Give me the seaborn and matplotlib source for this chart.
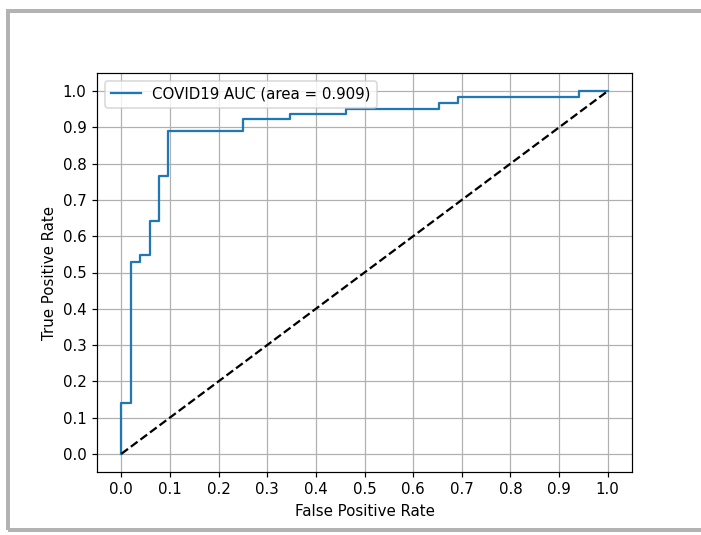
import matplotlib
matplotlib.use("Agg")
import matplotlib.pyplot as plt
from matplotlib.patches import Rectangle
import seaborn as sns
import pandas as pd
import numpy as np

# ROC curve corner points
fpr = [0.0, 0.0, 0.019, 0.019, 0.038, 0.038, 0.058, 0.058, 0.077, 0.077,
       0.096, 0.096, 0.250, 0.250, 0.346, 0.346, 0.462, 0.462, 0.654, 0.654,
       0.692, 0.692, 0.942, 0.942, 1.0]
tpr = [0.0, 0.141, 0.141, 0.530, 0.530, 0.549, 0.549, 0.643, 0.643, 0.765,
       0.765, 0.890, 0.890, 0.923, 0.923, 0.938, 0.938, 0.952, 0.952, 0.968,
       0.968, 0.985, 0.985, 1.0, 1.0]
diag_x = [0.0, 1.0]
diag_y = [0.0, 1.0]
label = "COVID19 AUC (area = 0.909)"
ticks = [0.0, 0.1, 0.2, 0.3, 0.4, 0.5, 0.6, 0.7, 0.8, 0.9, 1.0]

DPI = 108
W, H = 701, 535
fig = plt.figure(figsize=(W / DPI, H / DPI), dpi=DPI)
ax = fig.add_axes([97 / W, (H - 472) / H, 535 / W, 399 / H])

df = pd.DataFrame({"fpr": fpr, "tpr": tpr})
sns.lineplot(data=df, x="fpr", y="tpr", sort=False, estimator=None,
             color="#1f77b4", linewidth=1.5, label=label, ax=ax)
sns.lineplot(x=diag_x, y=diag_y, color="k", linestyle="--", linewidth=1.5, ax=ax)

ax.set_xlim(-0.05, 1.05)
ax.set_ylim(-0.05, 1.05)
ax.set_xticks(ticks)
ax.set_yticks(ticks)
ax.set_xticklabels([f"{t:.1f}" for t in ticks])
ax.set_yticklabels([f"{t:.1f}" for t in ticks])
ax.grid(True, color="#b0b0b0", linewidth=0.8)
ax.set_axisbelow(True)
ax.set_xlabel("False Positive Rate")
ax.set_ylabel("True Positive Rate")
ax.legend(loc="upper left")

# outer gray frame
fig.patches.append(Rectangle((8, H - 530), 710, 519.5, transform=None,
                             fill=False, edgecolor="#b3b3b3",
                             linewidth=4 * 72 / DPI, zorder=-1))

fig.savefig("out.png", dpi=DPI)
